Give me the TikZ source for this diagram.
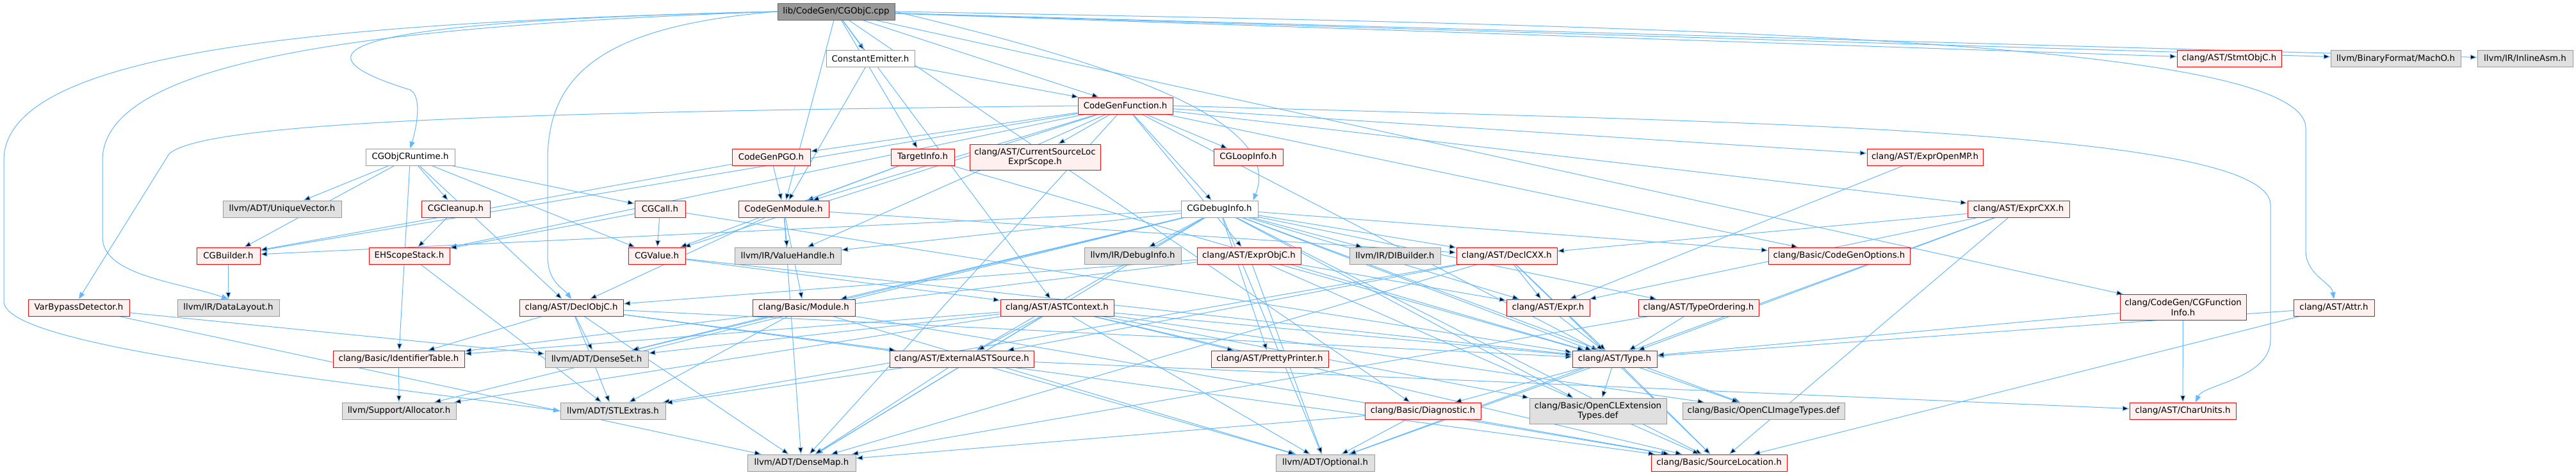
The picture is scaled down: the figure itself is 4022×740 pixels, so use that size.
\documentclass[tikz,border=0pt]{standalone}
\usepackage{fontspec}
\setmainfont{DejaVu Sans}
\usepackage{tikz}
\usetikzlibrary{arrows.meta,backgrounds}
\definecolor{DoxEdge}{HTML}{63B8FF}
\definecolor{DoxRoot}{HTML}{999999}
\definecolor{DoxRootLine}{HTML}{666666}
\definecolor{DoxGray}{HTML}{E0E0E0}
\definecolor{DoxGrayLine}{HTML}{999999}
\definecolor{DoxTrunc}{HTML}{FFF0F0}
\definecolor{DoxTruncLine}{HTML}{FF0000}
\tikzset{
  doxnode/.style={draw, line width=0.75pt, inner sep=1pt, minimum height=19.5pt, align=center, font=\fontsize{10pt}{11.5pt}\selectfont, text=black},
  rootbox/.style={doxnode, fill=DoxRoot, draw=DoxRootLine},
  docbox/.style={doxnode, fill=white, draw=DoxGrayLine},
  truncbox/.style={doxnode, fill=DoxTrunc, draw=DoxTruncLine},
  extbox/.style={doxnode, fill=DoxGray, draw=DoxGrayLine},
  twoline/.style={minimum height=30pt},
  inc/.style={-{Triangle[length=8pt,width=6pt]}, draw=DoxEdge, line width=0.75pt}
}

\begin{document}
\begin{tikzpicture}[x=0.75pt, y=-0.75pt]
\useasboundingbox (0,0) rectangle (4022,740);
% top ranks
\node[rootbox, minimum width=137.25pt] (cpp) at (1305.5,18) {lib/CodeGen/CGObjC.cpp};
\node[docbox, minimum width=103.5pt] (constemit) at (1359,91.5) {ConstantEmitter.h};
\node[truncbox, minimum width=122.25pt] (stmtobjc) at (3480.5,91) {clang/AST/StmtObjC.h};
\node[extbox, minimum width=152.25pt] (macho) at (3740.5,91.5) {llvm/BinaryFormat/MachO.h};
\node[extbox, minimum width=111.75pt] (inlineasm) at (3942.5,91.5) {llvm/IR/InlineAsm.h};
\node[truncbox, minimum width=111pt] (cgf) at (1757,165) {CodeGenFunction.h};
\node[docbox, minimum width=104.25pt] (objcrt) at (640.5,245) {CGObjCRuntime.h};
\node[truncbox, minimum width=91.5pt] (pgo) at (1204,245) {CodeGenPGO.h};
\node[truncbox, minimum width=74.25pt] (targetinfo) at (1440.5,245) {TargetInfo.h};
\node[truncbox, twoline, minimum width=153pt] (srclocscope) at (1616,245) {clang/AST/CurrentSourceLoc\\ExprScope.h};
\node[truncbox, minimum width=81pt] (loopinfo) at (1949,245) {CGLoopInfo.h};
\node[truncbox, minimum width=135.75pt] (expromp) at (3005.5,245) {clang/AST/ExprOpenMP.h};
% codegen headers
\node[extbox, minimum width=138.75pt] (uniquevec) at (440.5,326) {llvm/ADT/UniqueVector.h};
\node[truncbox, minimum width=80.25pt] (cgcleanup) at (711.5,326) {CGCleanup.h};
\node[truncbox, minimum width=59.25pt] (cgcall) at (1030.5,326) {CGCall.h};
\node[truncbox, minimum width=105.75pt] (cgm) at (1223.5,326) {CodeGenModule.h};
\node[docbox, minimum width=90pt] (cgdebug) at (1904,326) {CGDebugInfo.h};
\node[truncbox, minimum width=119.25pt] (exprcxx) at (3151.5,326) {clang/AST/ExprCXX.h};
\node[truncbox, minimum width=74.25pt] (cgbuilder) at (356.5,399) {CGBuilder.h};
\node[truncbox, minimum width=94.5pt] (ehscope) at (639,399) {EHScopeStack.h};
\node[truncbox, minimum width=66.75pt] (cgvalue) at (1025.5,399) {CGValue.h};
\node[extbox, minimum width=124.5pt] (valuehandle) at (1230,399) {llvm/IR/ValueHandle.h};
\node[extbox, minimum width=113.25pt] (debuginfo) at (1768.5,399) {llvm/IR/DebugInfo.h};
\node[truncbox, minimum width=121.5pt] (exprobjc) at (1950,399) {clang/AST/ExprObjC.h};
\node[extbox, minimum width=106.5pt] (dibuilder) at (2178,399) {llvm/IR/DIBuilder.h};
\node[truncbox, minimum width=117.75pt] (declcxx) at (2352.5,399) {clang/AST/DeclCXX.h};
\node[truncbox, minimum width=165.75pt] (cgopts) at (2871.5,399) {clang/Basic/CodeGenOptions.h};
% AST and basic headers
\node[truncbox, minimum width=118.5pt] (varbypass) at (123,480) {VarBypassDetector.h};
\node[extbox, minimum width=119.25pt] (datalayout) at (356.5,480) {llvm/IR/DataLayout.h};
\node[truncbox, minimum width=121.5pt] (declobjc) at (892,480) {clang/AST/DeclObjC.h};
\node[truncbox, minimum width=120pt] (module) at (1255,480) {clang/Basic/Module.h};
\node[truncbox, minimum width=132.75pt] (astctx) at (1650.5,480) {clang/AST/ASTContext.h};
\node[truncbox, minimum width=97.5pt] (expr) at (2417,480) {clang/AST/Expr.h};
\node[truncbox, minimum width=141pt] (typeorder) at (2652,480) {clang/AST/TypeOrdering.h};
\node[truncbox, twoline, minimum width=147.75pt] (cgfninfo) at (3408.5,479.5) {clang/CodeGen/CGFunction\\Info.h};
\node[truncbox, minimum width=94.5pt] (attr) at (3644,480) {clang/AST/Attr.h};
\node[truncbox, minimum width=153.75pt] (identtable) at (622.5,560) {clang/Basic/IdentifierTable.h};
\node[extbox, minimum width=120.75pt] (denseset) at (931.5,560) {llvm/ADT/DenseSet.h};
\node[truncbox, minimum width=168.75pt] (extsrc) at (1501.5,560) {clang/AST/ExternalASTSource.h};
\node[truncbox, minimum width=137.25pt] (pretty) at (1982.5,560) {clang/AST/PrettyPrinter.h};
\node[truncbox, minimum width=99pt] (typeh) at (2521,560) {clang/AST/Type.h};
\node[extbox, minimum width=133.5pt] (allocator) at (623,641) {llvm/Support/Allocator.h};
\node[extbox, minimum width=123pt] (stlextras) at (957,641) {llvm/ADT/STLExtras.h};
\node[truncbox, minimum width=135.75pt] (diag) at (2221.5,641) {clang/Basic/Diagnostic.h};
\node[extbox, twoline, minimum width=160.5pt] (oclext) at (2495,641) {clang/Basic/OpenCLExtension\\Types.def};
\node[extbox, minimum width=189.75pt] (oclimg) at (2753.5,641) {clang/Basic/OpenCLImageTypes.def};
\node[truncbox, minimum width=124.5pt] (charunits) at (3408,641) {clang/AST/CharUnits.h};
\node[extbox, minimum width=126.75pt] (densemap) at (1251.5,722) {llvm/ADT/DenseMap.h};
\node[extbox, minimum width=115.5pt] (optional) at (2069,722) {llvm/ADT/Optional.h};
\node[truncbox, minimum width=159pt] (srcloc) at (2684,722) {clang/Basic/SourceLocation.h};
% include edges
\begin{scope}[on background layer]
\fill[white] (0,0) rectangle (4022,740);
% long ones routed round the outside
\draw[inc] (cpp.west) .. controls (700,30) and (380,60) .. (640,140) .. controls (660,150) and (650,200) .. (objcrt.north);
\draw[inc] (cpp.west) .. controls (600,40) and (160,90) .. (160,250) -- (160,370) .. controls (160,430) and (280,440) .. (datalayout.north);
\draw[inc] (cpp.west) .. controls (500,35) and (6,80) .. (6,250) -- (6,470) .. controls (6,540) and (500,590) .. (stlextras.west);
\draw[inc] (cpp.west) .. controls (950,40) and (855,110) .. (855,250) -- (855,400) .. controls (855,440) and (880,450) .. (declobjc.north);
\draw[inc] (cpp.east) .. controls (2600,40) and (3600,60) .. (3600,200) -- (3600,390) .. controls (3600,430) and (3640,440) .. (attr.north);
\draw[inc] (cpp.east) .. controls (1700,90) and (2010,180) .. ([xshift=-6pt]cgdebug.north east);
\draw[inc] (cgf.east) .. controls (2700,190) and (3545,200) .. (3545,320) -- (3545,530) .. controls (3545,590) and (3440,600) .. ([xshift=15pt]charunits.north);
\draw[inc] (cgf.west) .. controls (800,175) and (320,190) .. (264,240) -- (varbypass.north);
% the rest
\path[inc] (cpp) edge (cgf) edge (cgm) edge (constemit) edge (targetinfo) edge (astctx) edge (stmtobjc) edge (diag) edge (cgfninfo) edge (macho) edge (inlineasm);
\path[inc] (constemit) edge (cgf) edge (cgm);
\path[inc] (cgf) edge (cgbuilder) edge (cgdebug) edge (loopinfo) edge (cgvalue) edge (cgm) edge (pgo) edge (ehscope) edge (srclocscope) edge (exprcxx) edge (exprobjc) edge (expromp) edge (typeh) edge (cgopts) edge (densemap) edge (valuehandle);
\path[inc] (objcrt) edge (cgbuilder) edge (cgcall) edge (cgcleanup) edge (cgvalue) edge (declobjc) edge (identtable) edge (uniquevec);
\path[inc] (pgo) edge (cgbuilder) edge (cgm);
\path[inc] (targetinfo) edge (cgm) edge (cgvalue) edge (typeh);
\path[inc] (cgcleanup) edge (ehscope);
\path[inc] (cgcall) edge (cgvalue) edge (ehscope) edge (typeh);
\path[inc] (cgbuilder) edge (datalayout);
\path[inc] (ehscope) edge (stlextras);
\path[inc] (cgvalue) edge (astctx) edge (typeh);
\path[inc] (cgm) edge (declcxx) edge (declobjc) edge (module) edge (densemap) edge (valuehandle);
\path[inc] (cgdebug) edge (cgbuilder) edge (declcxx) edge (expr) edge (extsrc) edge (pretty) edge (typeh) edge (typeorder) edge (cgopts) edge (module) edge (srcloc) edge (densemap) edge (denseset) edge (optional) edge (dibuilder) edge (debuginfo) edge (valuehandle) edge (allocator) edge (oclext) edge (oclimg);
\path[inc] (varbypass) edge (densemap) edge (denseset);
\path[inc] (exprobjc) edge (declobjc) edge (expr) edge (typeh) edge (identtable) edge (srcloc) edge (optional);
\path[inc] (exprcxx) edge (declcxx) edge (expr) edge (typeh) edge (srcloc) edge (optional);
\path[inc] (expromp) edge (expr);
\path[inc] (declcxx) edge (expr) edge (extsrc) edge (typeh) edge (srcloc) edge (densemap) edge (stlextras);
\path[inc] (declobjc) edge (extsrc) edge (typeh) edge (identtable) edge (srcloc) edge (densemap) edge (denseset) edge (stlextras);
\path[inc] (module) edge (srcloc) edge (denseset) edge (optional) edge (stlextras);
\path[inc] (astctx) edge (extsrc) edge (pretty) edge (typeh) edge (identtable) edge (srcloc) edge (densemap) edge (denseset) edge (optional) edge (allocator) edge (oclext) edge (oclimg);
\path[inc] (attr) edge (typeh) edge (srcloc);
\path[inc] (cgfninfo) edge (charunits) edge (typeh);
\path[inc] (expr) edge (typeh);
\path[inc] (typeorder) edge (typeh) edge (densemap);
\path[inc] (typeh) edge (diag) edge (srcloc) edge (optional) edge (oclext) edge (oclimg);
\path[inc] (diag) edge (srcloc) edge (densemap) edge (optional);
\path[inc] (extsrc) edge (charunits) edge (densemap) edge (optional) edge (stlextras);
\path[inc] (identtable) edge (allocator);
\end{scope}
\end{tikzpicture}
\end{document}
